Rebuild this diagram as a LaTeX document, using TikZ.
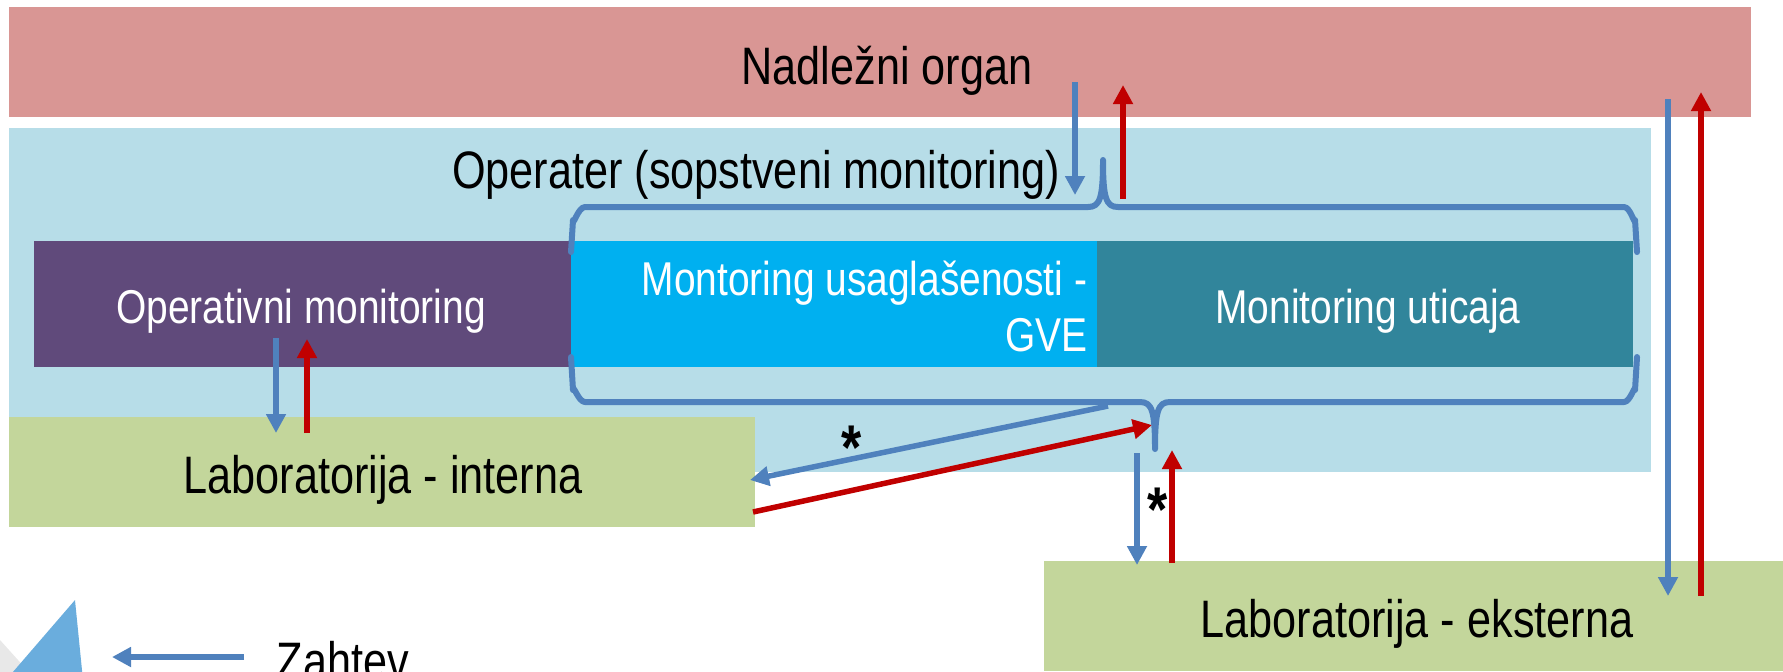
\documentclass[tikz,border=0pt]{standalone}
\usepackage{fontspec}
\setmainfont{Liberation Sans}[FakeStretch=0.82]
\usetikzlibrary{arrows.meta,fit}
\definecolor{nadred}{RGB}{217,150,148}
\definecolor{opbg}{RGB}{183,221,232}
\definecolor{purp}{RGB}{96,74,123}
\definecolor{cyanb}{RGB}{0,176,240}
\definecolor{tealb}{RGB}{49,133,155}
\definecolor{greenb}{RGB}{195,214,155}
\definecolor{arrblue}{RGB}{79,129,189}
\definecolor{arrred}{RGB}{192,0,0}
\definecolor{legblue}{RGB}{106,173,221}
\definecolor{leggray}{RGB}{232,232,232}
\begin{document}
\begin{tikzpicture}[x=0.1mm,y=-0.1mm,
  area/.style={inner sep=0pt,outer sep=0pt,draw=none},
  big/.style={inner sep=0pt,anchor=base,font=\fontsize{15}{18}\selectfont},
  small/.style={inner sep=0pt,anchor=base,text=white,font=\fontsize{13.5}{15.9}\selectfont},
  star/.style={inner sep=0pt,font=\fontsize{18}{20}\selectfont\bfseries},
  bracel/.style={draw=arrblue,line width=0.6mm,line cap=round,line join=round},
  req/.style={draw=arrblue,line width=0.55mm,-{Triangle[length=1.9mm,width=1.9mm]}},
  res/.style={draw=arrred,line width=0.55mm,-{Triangle[length=1.9mm,width=1.9mm]}}]
\useasboundingbox (0,0) rectangle (1783,671);
\clip (0,0) rectangle (1783,671);
% areas
\node[area,fill=nadred,fit={(9,7) (1751,117)}] (nad) {};
\node[area,fill=opbg,fit={(9,128) (1651,472)}] (oper) {};
\node[area,fill=purp,fit={(34,241) (571,367)}] (opmon) {};
\node[area,fill=cyanb,fit={(571,241) (1097,367)}] (gve) {};
\node[area,fill=tealb,fit={(1097,241) (1633,367)}] (utic) {};
\node[area,fill=greenb,fit={(9,417) (755,527)}] (labint) {};
\node[area,fill=greenb,fit={(1044,561) (1783,671)}] (labext) {};
% legend triangles
\fill[leggray] (0,640) -- (36,680) -- (0,680) -- cycle;
\fill[legblue] (75,600) -- (83,680) -- (6,680) -- cycle;
% texts
\node[big] (nadT) at (887,84) {Nadležni organ};
\node[big] (operT) at (756,188) {Operater (sopstveni monitoring)};
\node[small] (opmonT) at (301,323) {Operativni monitoring};
\node[small,anchor=base east,align=right] (gveT) at (1088,351) {Montoring usaglašenosti -\\GVE};
\node[small] (uticT) at (1368,323) {Monitoring uticaja};
\node[big] (labintT) at (383,493) {Laboratorija - interna};
\node[big] (labextT) at (1417,637) {Laboratorija - eksterna};
\node[star] (s1) at (852,448) {*};
\node[star] (s2) at (1158,510) {*};
\node[big,anchor=base west] (zah) at (276,679) {Zahtev};
% braces
\path[bracel] (571,252) -- (573,220) to[out=-90,in=180] (585,207) -- (1088,207)
  .. controls (1100,207) and (1103,198) .. (1103,160)
  .. controls (1103,198) and (1106,207) .. (1118,207) -- (1624,207)
  to[out=0,in=-90] (1635,220) -- (1637,252);
\path[bracel] (571,357) -- (573,390) to[out=90,in=180] (585,402) -- (1140,402)
  .. controls (1152,402) and (1155,411) .. (1155,449)
  .. controls (1155,411) and (1158,402) .. (1170,402) -- (1624,402)
  to[out=0,in=90] (1635,390) -- (1637,357);
% connector end points
\coordinate (nadA) at (1075,82);  \coordinate (operA) at (1075,195);
\coordinate (operB) at (1123,199); \coordinate (nadB) at (1123,85);
\coordinate (nadC) at (1668,99);  \coordinate (extC) at (1668,596);
\coordinate (extD) at (1701,596); \coordinate (nadD) at (1701,92);
\coordinate (opmonA) at (276,338); \coordinate (intA) at (276,433);
\coordinate (intB) at (307,433);  \coordinate (opmonB) at (307,339);
\coordinate (braceA) at (1108,406); \coordinate (intC) at (750,480);
\coordinate (intD) at (753,512);  \coordinate (braceB) at (1152,425);
\coordinate (braceC) at (1137,453); \coordinate (extA) at (1137,565);
\coordinate (extB) at (1172,563); \coordinate (braceD) at (1172,450);
\coordinate (legA) at (244,657);  \coordinate (legB) at (112,657);
% arrows
\draw[req] (nadA) -- (operA);
\draw[res] (operB) -- (nadB);
\draw[req] (nadC) -- (extC);
\draw[res] (extD) -- (nadD);
\draw[req] (opmonA) -- (intA);
\draw[res] (intB) -- (opmonB);
\draw[req] (braceA) -- (intC);
\draw[res] (intD) -- (braceB);
\draw[req] (braceC) -- (extA);
\draw[res] (extB) -- (braceD);
\draw[req] (legA) -- (legB);
\end{tikzpicture}
\end{document}
